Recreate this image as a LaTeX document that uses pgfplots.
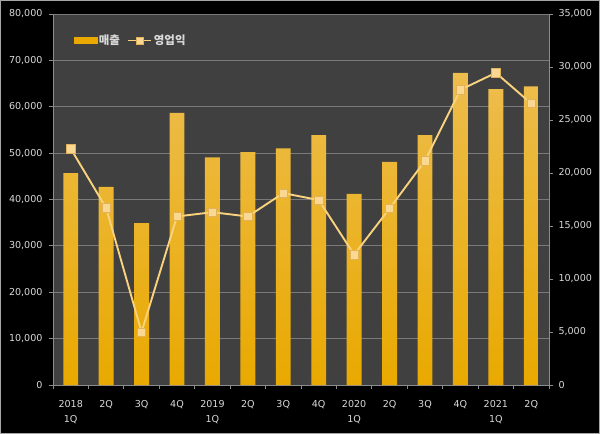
\documentclass[border=0pt]{standalone}
\usepackage{pgfplots}
\usepackage{pgfplotstable}
\pgfplotsset{compat=1.18}
\usepackage{fontspec}
\setmainfont{DejaVu Sans}
\newfontfamily\kofont{Noto Sans CJK KR}

\definecolor{plotbg}{HTML}{404040}
\definecolor{gridc}{HTML}{7A7A7A}
\definecolor{axisc}{HTML}{8C8C8C}
\definecolor{txt}{HTML}{D9D9D9}
\definecolor{bartop}{HTML}{EDBD4E}
\definecolor{barbot}{HTML}{E9A900}
\definecolor{linec}{HTML}{F9D27E}
\definecolor{markf}{HTML}{FBD891}
\definecolor{markd}{HTML}{E2B25A}

% quarterly sales and operating profit
\pgfplotstableread{
x sales profit
0  45700 22300
1  42700 16700
2  34900 5000
3  58700 15900
4  49100 16300
5  50200 15900
6  51000 18100
7  53900 17450
8  41200 12300
9  48100 16650
10 53900 21150
11 67300 27850
12 63800 29450
13 64400 26550
}\data

\pgfplotsset{
  base/.style={
    scale only axis, width=496bp, height=371bp,
    at={(0,0)}, anchor=south west,
    xmin=-0.5, xmax=13.5, ymin=0,
    axis line style={axisc, line width=0.8bp},
    tick style={axisc, line width=0.8bp},
    major tick length=4bp,
    tick align=outside,
    ticklabel style={font=\fontsize{9.6}{14.5}\selectfont, text=txt},
    scaled y ticks=false,
    /pgf/number format/assume math mode=true,
    /pgf/number format/1000 sep={,},
  },
  linelegend/.style={
    legend image code/.code={
      \draw[##1, mark size=3.5bp, mark repeat=2, mark phase=2]
        plot coordinates {(0bp,0bp) (11.5bp,0bp) (23bp,0bp)};}},
  barlegend/.style={
    legend image code/.code={\fill[barbot] (0bp,-3bp) rectangle (23bp,3bp);}},
}

\begin{document}
\begin{tikzpicture}
\fill[black] (-53bp,-49bp) rectangle (547bp,385bp);
\draw[gray!70, line width=1bp] (-52.5bp,-48.5bp) rectangle (546.5bp,384.5bp);

\begin{axis}[base,
  ymax=80000, ytick={0,10000,...,80000},
  axis y line*=left, axis x line*=bottom,
  ymajorgrids, grid style={gridc, line width=0.8bp},
  axis background/.style={fill=plotbg},
  yticklabel style={xshift=-3bp},
  xtick={-0.5,0.5,...,13.5}, xticklabels={},
  extra x ticks={0,1,...,13},
  extra x tick labels={2018\\1Q,2Q,3Q,4Q,2019\\1Q,2Q,3Q,4Q,2020\\1Q,2Q,3Q,4Q,2021\\1Q,2Q},
  extra x tick style={major tick length=0pt,
    xticklabel style={align=center, anchor=north, yshift=-12bp}},
]
\addplot[ybar, bar width=0.42, draw=none, top color=bartop, bottom color=barbot]
  table[x=x, y=sales] {\data};
\end{axis}

\begin{axis}[base,
  ymax=35000, ytick={0,5000,...,35000},
  axis y line*=right, axis x line=none,
  yticklabel style={xshift=2bp},
  legend style={at={(0.036,0.9286)}, anchor=west, draw=none, fill=none,
    text=txt, font=\kofont\bfseries\fontsize{11.5}{13}\selectfont,
    legend columns=2, legend cell align=left,
    nodes={inner sep=1.5bp},
    /tikz/every even column/.append style={column sep=6bp}},
]
\addlegendimage{barlegend}
\addlegendentry{매출}
\addplot[linec, line width=1.9bp, mark=square*,
  mark size=4.2bp, mark options={fill=markf, draw=markd, line width=0.6bp},
  linelegend]
  table[x=x, y=profit] {\data};
\addlegendentry{영업익}
\end{axis}

\pgfresetboundingbox
\path (-53bp,-49bp) rectangle (547bp,385bp);
\end{tikzpicture}
\end{document}
